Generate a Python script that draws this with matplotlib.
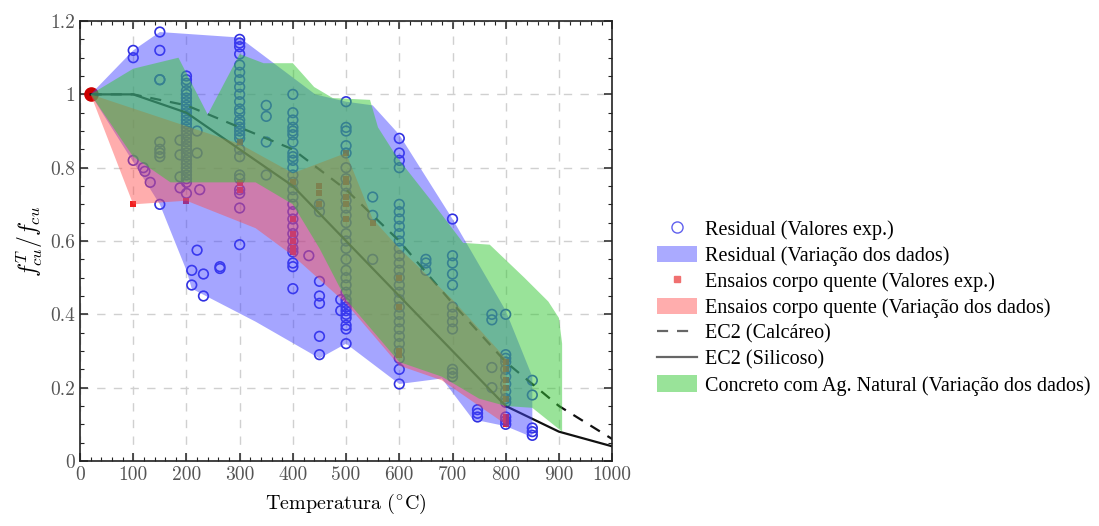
import matplotlib
matplotlib.use("Agg")
import matplotlib.pyplot as plt
from matplotlib.lines import Line2D
from matplotlib.patches import Patch

plt.rcParams['mathtext.fontset'] = 'cm'
plt.rcParams['axes.formatter.use_mathtext'] = True

# ---- data ----
# Residual tests (open blue circles): x = temperature, y = fcu_T / fcu
res_x = ([20, 20, 20] + [100, 100, 100, 119, 122, 132]
         + [150] * 9 + [188, 188, 188, 188, 220, 220, 225, 220]
         + [200] * 30 + [210, 210, 232, 232, 263, 263]
         + [300] * 26 + [350] * 4 + [400] * 26 + [430]
         + [450] * 7 + [500] * 30 + [490, 490]
         + [550] * 3 + [600] * 28 + [650] * 3 + [700] * 12
         + [747, 747, 747, 774, 774, 774, 774] + [800] * 13 + [850] * 5)
res_y = ([1.0, 1.0, 1.0] + [1.12, 1.10, 0.82, 0.80, 0.79, 0.76]
         + [1.17, 1.12, 1.04, 1.04, 0.87, 0.85, 0.84, 0.83, 0.70]
         + [0.875, 0.835, 0.775, 0.745, 0.90, 0.84, 0.74, 0.575]
         + [1.05, 1.04, 1.03, 1.01, 1.00, 0.99, 0.98, 0.97, 0.96, 0.95,
            0.94, 0.93, 0.92, 0.91, 0.90, 0.89, 0.88, 0.87, 0.86, 0.85,
            0.84, 0.83, 0.82, 0.81, 0.80, 0.79, 0.78, 0.77, 0.76, 0.73]
         + [0.52, 0.48, 0.51, 0.45, 0.53, 0.525]
         + [1.15, 1.14, 1.13, 1.11, 1.08, 1.06, 1.04, 1.02, 1.00, 0.98,
            0.96, 0.95, 0.93, 0.92, 0.91, 0.90, 0.89, 0.88, 0.85, 0.83,
            0.78, 0.77, 0.74, 0.73, 0.69, 0.59]
         + [0.97, 0.94, 0.87, 0.78]
         + [1.00, 0.95, 0.93, 0.91, 0.90, 0.89, 0.87, 0.84, 0.83, 0.82,
            0.80, 0.78, 0.76, 0.74, 0.72, 0.70, 0.68, 0.66, 0.64, 0.62,
            0.60, 0.58, 0.57, 0.54, 0.53, 0.47]
         + [0.56]
         + [0.70, 0.68, 0.49, 0.45, 0.43, 0.34, 0.29]
         + [0.98, 0.91, 0.90, 0.86, 0.84, 0.80, 0.77, 0.75, 0.73, 0.71,
            0.69, 0.67, 0.65, 0.62, 0.60, 0.58, 0.55, 0.52, 0.50, 0.48,
            0.46, 0.44, 0.43, 0.42, 0.41, 0.40, 0.39, 0.37, 0.36, 0.32]
         + [0.44, 0.41]
         + [0.72, 0.67, 0.55]
         + [0.88, 0.84, 0.82, 0.80, 0.70, 0.68, 0.66, 0.64, 0.62, 0.60,
            0.58, 0.56, 0.54, 0.52, 0.50, 0.48, 0.46, 0.44, 0.42, 0.40,
            0.38, 0.36, 0.34, 0.32, 0.30, 0.28, 0.25, 0.21]
         + [0.55, 0.54, 0.52]
         + [0.66, 0.56, 0.54, 0.51, 0.48, 0.42, 0.40, 0.38, 0.36, 0.25,
            0.24, 0.23]
         + [0.14, 0.13, 0.12, 0.40, 0.385, 0.255, 0.20]
         + [0.40, 0.29, 0.28, 0.27, 0.25, 0.23, 0.21, 0.19, 0.17, 0.16,
            0.12, 0.11, 0.10]
         + [0.22, 0.18, 0.09, 0.08, 0.07])

# Hot (stressed) tests (small red squares)
hot_x = ([100, 200, 300, 300, 300] + [400] * 6 + [450] * 3 + [500] * 6
         + [550] + [600] * 4 + [800] * 8)
hot_y = ([0.70, 0.71, 0.87, 0.757, 0.74]
         + [0.76, 0.66, 0.62, 0.60, 0.58, 0.57]
         + [0.75, 0.73, 0.70]
         + [0.84, 0.77, 0.76, 0.72, 0.70, 0.66]
         + [0.65]
         + [0.50, 0.42, 0.30, 0.29]
         + [0.27, 0.25, 0.22, 0.20, 0.17, 0.12, 0.11, 0.10])

# Variation envelopes (upper edge left->right, then lower edge right->left)
res_env_x = [20, 100, 150, 300, 442, 500, 550, 600, 700, 800, 850,
             850, 800, 750, 740, 680, 600, 500, 450, 330, 210, 200, 150, 20]
res_env_y = [1.0, 1.12, 1.17, 1.155, 1.0, 0.98, 0.97, 0.89, 0.66, 0.41, 0.23,
             0.065, 0.095, 0.11, 0.11, 0.225, 0.21, 0.32, 0.28, 0.38, 0.47,
             0.52, 0.70, 1.0]

hot_env_x = [20, 300, 400, 500, 550, 600, 700, 800,
             800, 750, 680, 600, 500, 400, 330, 200, 100, 20]
hot_env_y = [1.0, 0.865, 0.785, 0.84, 0.66, 0.58, 0.44, 0.28,
             0.10, 0.15, 0.22, 0.26, 0.43, 0.56, 0.635, 0.71, 0.70, 1.0]

nat_env_x = [20, 100, 185, 240, 300, 345, 400, 440, 475, 545, 560, 595,
             660, 720, 770, 835, 880, 900, 906, 906,
             850, 800, 750, 680, 600, 500, 450, 400, 330, 170, 100, 20]
nat_env_y = [1.0, 1.07, 1.10, 0.945, 1.11, 1.085, 1.085, 1.02, 0.99, 0.985,
             0.91, 0.83, 0.71, 0.595, 0.59, 0.50, 0.435, 0.39, 0.32, 0.08,
             0.145, 0.15, 0.17, 0.23, 0.27, 0.44, 0.58, 0.70, 0.76, 0.76,
             0.83, 1.0]

# EC2 reduction curves
ec2_T = [20, 100, 200, 300, 400, 500, 600, 700, 800, 900, 1000]
ec2_calc = [1.0, 1.0, 0.97, 0.91, 0.85, 0.74, 0.60, 0.43, 0.27, 0.15, 0.06]
ec2_sil = [1.0, 1.0, 0.95, 0.85, 0.75, 0.60, 0.45, 0.30, 0.15, 0.08, 0.04]

x_ticks = [0, 100, 200, 300, 400, 500, 600, 700, 800, 900, 1000]
y_ticks = [0, 0.2, 0.4, 0.6, 0.8, 1.0, 1.2]
y_tick_labels = ['0', '0.2', '0.4', '0.6', '0.8', '1', '1.2']

fig = plt.figure(figsize=(10.99, 5.26), dpi=100)
ax = fig.add_axes([0.0728, 0.1236, 0.4842, 0.8364])

blue = '#4444ff'
red = '#ff4a4a'
green = '#35c835'

# markers and curves go under the translucent envelopes, like the original
ax.scatter(res_x, res_y, s=48, facecolors='none', edgecolors='#3030e0',
           linewidths=1.2, zorder=1)
ax.scatter(hot_x, hot_y, s=16, marker='s', color='#ee2020', linewidths=0,
           zorder=1)
ax.scatter([20], [1.0], s=90, color='#cc0000', zorder=1)
ax.plot(ec2_T, ec2_calc, '--', color='#111111', lw=1.6, dashes=(5, 4), zorder=1)
ax.plot(ec2_T, ec2_sil, '-', color='#111111', lw=1.6, zorder=1)

ax.fill(res_env_x, res_env_y, color=blue, alpha=0.48, lw=0, zorder=2)
ax.fill(hot_env_x, hot_env_y, color=red, alpha=0.45, lw=0, zorder=2)
ax.fill(nat_env_x, nat_env_y, color=green, alpha=0.50, lw=0, zorder=2)

ax.set_xlim(0, 1000)
ax.set_ylim(0, 1.2)
ax.set_xticks(x_ticks)
ax.set_xticklabels([str(t) for t in x_ticks])
ax.set_yticks(y_ticks)
ax.set_yticklabels(y_tick_labels)
ax.set_xticks(range(0, 1001, 20), minor=True)
ax.set_yticks([i * 0.05 for i in range(25)], minor=True)
ax.tick_params(which='both', direction='in', top=True, right=True,
               colors='#222222', labelcolor='#555555')
ax.tick_params(which='major', length=6, width=1.1)
ax.tick_params(which='minor', length=3, width=0.8)
for lab in ax.get_xticklabels() + ax.get_yticklabels():
    lab.set_family('cmr10')
    lab.set_fontsize(14)
ax.grid(True, which='major', color='#d0d0d0', ls=(0, (6, 6)), lw=1.0, zorder=0)
ax.set_axisbelow(True)
for sp in ax.spines.values():
    sp.set_linewidth(1.2)
    sp.set_color('#222222')

ax.set_xlabel(r'Temperatura ($^{\circ}$C)', family='cmr10', fontsize=14.5,
              labelpad=6)
ax.set_ylabel(r'$f_{cu}^{T}/f_{cu}$', fontsize=17, labelpad=4)

handles = [
    Line2D([], [], ls='none', marker='o', mfc='none', mec='#6060ee', ms=8),
    Patch(color=blue, alpha=0.45, lw=0),
    Line2D([], [], ls='none', marker='s', color='#f07070', ms=4),
    Patch(color=red, alpha=0.45, lw=0),
    Line2D([], [], ls='--', color='#666666', lw=1.6, dashes=(5, 4)),
    Line2D([], [], ls='-', color='#666666', lw=1.6),
    Patch(color=green, alpha=0.5, lw=0),
]
labels = [
    'Residual (Valores exp.)',
    'Residual (Variação dos dados)',
    'Ensaios corpo quente (Valores exp.)',
    'Ensaios corpo quente (Variação dos dados)',
    'EC2 (Calcáreo)',
    'EC2 (Silicoso)',
    'Concreto com Ag. Natural (Variação dos dados)',
]
fig.legend(handles, labels, loc='center left', bbox_to_anchor=(0.585, 0.415),
           frameon=False, prop={'family': 'Liberation Serif', 'size': 14.5},
           labelspacing=0.28, handlelength=2.0, handleheight=0.9,
           handletextpad=0.4, borderpad=0.2)

fig.savefig('out.png', dpi=100)
